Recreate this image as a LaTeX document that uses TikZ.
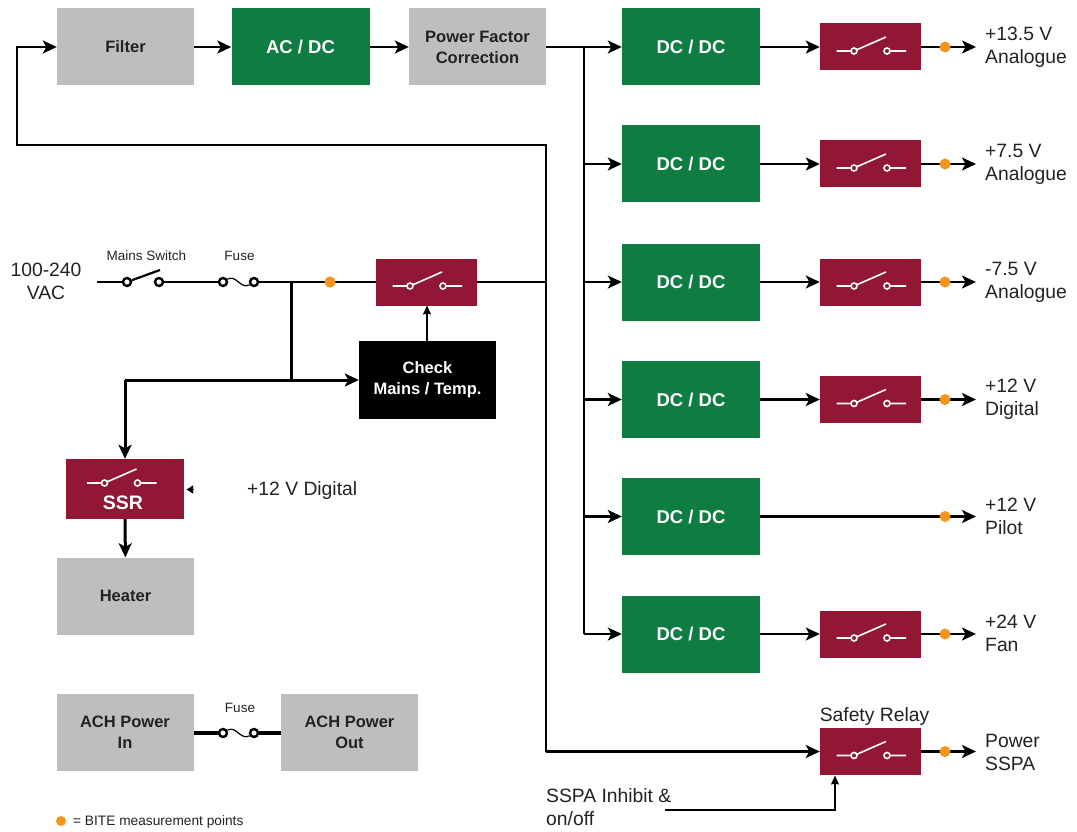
\documentclass[tikz,border=0pt]{standalone}
\usepackage{fontspec}
\setmainfont{Liberation Sans}
\usetikzlibrary{arrows.meta}
\definecolor{grn}{HTML}{0F7D42}
\definecolor{gry}{HTML}{BEBEBE}
\definecolor{crim}{HTML}{921735}
\definecolor{org}{HTML}{F7941D}
\definecolor{ink}{HTML}{222222}
\tikzset{
  box/.style={inner sep=0pt,align=center,font=\fontsize{16.5}{21}\selectfont\bfseries},
  graybox/.style={box,fill=gry,text=ink,minimum width=137pt,minimum height=77pt},
  greenbox/.style={box,fill=grn,text=white,minimum width=138pt,minimum height=77pt,font=\fontsize{18.5}{22}\selectfont\bfseries},
  relaybox/.style={inner sep=0pt,fill=crim,minimum width=101pt,minimum height=47pt},
  blackbox/.style={box,fill=black,text=white,minimum width=137pt,minimum height=78pt},
  lbl/.style={inner sep=0pt,align=left,text=ink,font=\fontsize{19.3}{23}\selectfont},
  small/.style={inner sep=0pt,text=ink,font=\fontsize{13.5}{16}\selectfont},
  wire/.style={line width=2.2pt,draw=black},
  heavy/.style={line width=3pt,draw=black},
  arr/.style={-{Stealth[length=14pt,width=13pt,inset=3.5pt]}},
  thinarr/.style={line width=1.3pt,draw=black,-{Stealth[length=9pt,width=8pt,inset=1pt]}},
  bite/.style={circle,fill=org,inner sep=0pt,minimum size=11pt},
  term/.style={circle,draw=black,fill=white,line width=2.4pt,inner sep=0pt,minimum size=8pt},
  relaysw/.pic={
    \draw[white,line width=1.6pt] (-34,4)--(-16.5,4) (16.5,4)--(35.5,4) (-16.5,4)--(15.5,-10);
    \draw[white,fill=crim,line width=1.6pt] (-16.5,4) circle (3) (16.5,4) circle (3);
  }
}
\begin{document}
\begin{tikzpicture}[x=1pt,y=-1pt]
\useasboundingbox (0,0) rectangle (1077,832);
% top row
\node[graybox] (filter) at (125.5,47) {Filter};
\node[greenbox] (acdc) at (300.5,47) {AC / DC};
\node[graybox] (pfc) at (477.5,47) {Power Factor\\Correction};
% DC/DC column
\node[greenbox] (dc1) at (691,47) {DC / DC};
\node[greenbox] (dc2) at (691,164) {DC / DC};
\node[greenbox] (dc3) at (691,282) {DC / DC};
\node[greenbox] (dc4) at (691,399.5) {DC / DC};
\node[greenbox] (dc5) at (691,516.5) {DC / DC};
\node[greenbox] (dc6) at (691,634) {DC / DC};
% relays
\node[relaybox] (r1) at (870.5,47) {};
\node[relaybox] (r2) at (870.5,164) {};
\node[relaybox] (r3) at (870.5,282) {};
\node[relaybox] (r4) at (870.5,399.5) {};
\node[relaybox] (r6) at (870.5,634) {};
\node[relaybox] (r7) at (870.5,751.5) {};
\node[relaybox] (rm) at (426.5,282) {};
\foreach \p in {r1,r2,r3,r4,r6,r7,rm} \path (\p.center) pic {relaysw};
% outputs
\foreach \n/\yy/\t in {o1/47.5/{+13.5 V\\Analogue},o2/164.5/{+7.5 V\\Analogue},o3/282.5/{-7.5 V\\Analogue},o4/399.5/{+12 V\\Digital},o5/516.5/{+12 V\\Pilot},o6/633.5/{+24 V\\Fan},o7/752/{Power\\SSPA}}
  \node[lbl,anchor=west] (\n) at (985,\yy) {\t};
\foreach \n/\yy in {a1/47,a2/164,a3/282,a4/399.5,a5/516.5,a6/634,a7/751.5}
  \coordinate (\n) at (976,\yy);
% wires, top
\draw[wire,arr] (filter) -- (acdc);
\draw[wire,arr] (acdc) -- (pfc);
\draw[wire,arr] (pfc) -- (dc1);
\coordinate (bustop) at (584,47);
\coordinate (busbot) at (584,634);
\draw[wire] (bustop) -- (busbot);
\draw[wire,arr] (584,164) -- (dc2);
\draw[wire,arr] (584,282) -- (dc3);
\draw[wire,arr] (584,399.5) -- (dc4);
\draw[wire,arr] (584,516.5) -- (dc5);
\draw[wire,arr] (busbot) -- (dc6);
\foreach \d/\r in {dc1/r1,dc2/r2,dc3/r3,dc4/r4,dc6/r6}
  \draw[wire,arr] (\d) -- (\r);
\foreach \r/\a in {r1/a1,r2/a2,r3/a3,r4/a4,r6/a6,r7/a7}
  \draw[wire,arr] (\r) -- (\a);
\draw[wire,arr] (dc5) -- (a5);
\foreach \n/\a in {b1/a1,b2/a2,b3/a3,b4/a4,b5/a5,b6/a6,b7/a7}
  \node[bite] (\n) at ([xshift=-31pt]\a) {};
% main bus
\coordinate (loopa) at (546,145);
\coordinate (loopb) at (17,145);
\coordinate (loopc) at (17,47);
\coordinate (joinm) at (546,282);
\coordinate (safe) at (546,751.5);
\draw[wire,arr] (safe -| loopa) |- (loopb) -- (loopc) -- (filter);
\draw[wire,arr] (safe) -- (r7);
\draw[wire] (rm) -- (joinm);
% mains input
\node[lbl,align=center] (vac) at (46,281) {100-240\\VAC};
\coordinate (inp) at (97,282);
\node[term] (s1) at (127,282) {};
\node[term] (s2) at (159,282) {};
\node[term] (f1) at (223,282) {};
\node[term] (f2) at (254,282) {};
\coordinate (j1) at (291,282);
\node[bite] (bm) at (330,282) {};
\coordinate (blade) at (160,270);
\node[small] (lsw) at (146.5,256) {Mains Switch};
\node[small] (lf1) at (239.5,256) {Fuse};
\draw[wire] (inp) -- (s1);
\draw[wire] (s1) -- (blade);
\draw[wire] (s2) -- (f1);
\draw[line width=1.2pt] (f1) .. controls +(13,-8) and +(-13,8) .. (f2);
\draw[wire] (f2) -- (rm);
\node[bite] at (bm) {};
% check and SSR
\node[blackbox] (chk) at (427.5,380) {Check\\Mains / Temp.};
\draw[thinarr] (chk.north -| 427,0) -- (427,305.5);
\coordinate (j2) at (291,380);
\coordinate (corner) at (125,380);
\node[relaybox,minimum width=118pt,minimum height=60pt] (ssr) at (125,489) {};
\path (121,479) pic {relaysw};
\node[box,text=white,font=\fontsize{19.5}{22}\selectfont\bfseries] (ssrt) at (123,503) {SSR};
\draw[heavy] (j1) -- (j2);
\draw[heavy,arr] (corner) -- (chk);
\draw[heavy,arr] (corner) -- (ssr);
\node[graybox] (heater) at (125.5,596) {Heater};
\draw[heavy,arr] (ssr) -- (heater);
\node[lbl,anchor=west] (dig) at (247,491) {+12 V Digital};
\coordinate (digtail) at (193,489.5);
\draw[line width=0.8pt,-{Latex[length=7pt,width=9pt]}] (digtail) -- ([xshift=2pt]ssr.east |- digtail);
% ACH
\node[graybox] (achin) at (125,732) {ACH Power\\In};
\node[graybox] (achout) at (349.5,732) {ACH Power\\Out};
\node[term] (f3) at (223,733) {};
\node[term] (f4) at (254,733) {};
\node[small] (lf2) at (240,708) {Fuse};
\draw[line width=4pt] (achin.east |- f3) -- (f3);
\draw[line width=4pt] (f4) -- (achout.west |- f4);
\draw[line width=1.2pt] (f3) .. controls +(13,-8) and +(-13,8) .. (f4);
% safety
\node[lbl,anchor=south] (safety) at (874.5,725.5) {Safety Relay};
\node[lbl,anchor=north west] (inh) at (546,788.5) {SSPA Inhibit \&\\on/off};
\coordinate (inhe) at (665,810);
\draw[thinarr] (inhe) -| (835,775.5);
% legend
\node[bite,minimum size=10pt] (leg) at (61,821) {};
\node[small,anchor=west,font=\fontsize{13.7}{15}\selectfont] (legt) at (73,822) {= BITE measurement points};
\end{tikzpicture}
\end{document}
